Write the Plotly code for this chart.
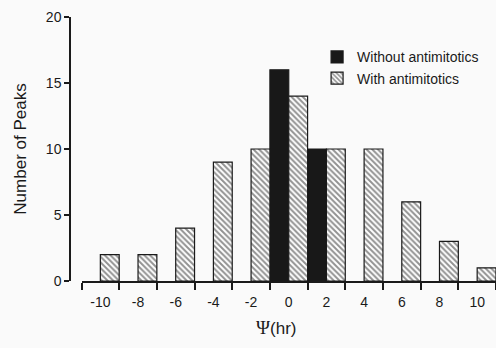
import plotly.graph_objects as go

# Bin start (hr) and counts
with_bins = [-10, -8, -6, -4, -2, 0, 2, 4, 6, 8, 10]
with_counts = [2, 2, 4, 9, 10, 14, 10, 10, 6, 3, 1]
without_bins = [-1, 1]
without_counts = [16, 10]

x_tick_vals = [-10, -8, -6, -4, -2, 0, 2, 4, 6, 8, 10]
x_tick_text = ["-10", "-8", "-6", "-4", "-2", "0", "2", "4", "6", "8", "10"]
x_minor_ticks = [-11, -9, -7, -5, -3, -1, 1, 3, 5, 7, 9, 11]
y_tick_vals = [0, 5, 10, 15, 20]

ink = "#1a1a1a"
bg = "#fafafa"
font_family = "Liberation Sans, Arial, Helvetica, sans-serif"

fig = go.Figure()
fig.add_trace(go.Bar(
    name="Without antimitotics",
    x=without_bins, y=without_counts, offset=0, width=1,
    marker=dict(color="#181818", line=dict(color=ink, width=1.2)),
))
fig.add_trace(go.Bar(
    name="With antimitotics",
    x=with_bins, y=with_counts, offset=0, width=1,
    marker=dict(color="white", line=dict(color=ink, width=1.2),
                pattern=dict(shape="\\", fgcolor="#262626", bgcolor="white",
                             size=4, solidity=0.5, fillmode="overlay")),
))

fig.update_layout(
    width=496, height=348,
    margin=dict(l=70, r=0, t=17, b=67, autoexpand=False),
    paper_bgcolor=bg, plot_bgcolor=bg,
    barmode="overlay",
    font=dict(family=font_family, color=ink, size=14),
    showlegend=True,
    legend=dict(x=0.58, y=0.908, xanchor="left", yanchor="top",
                bgcolor="rgba(0,0,0,0)", font=dict(size=14),
                traceorder="normal", tracegroupgap=0),
    xaxis=dict(
        range=[-11, 11], domain=[0.027, 1], automargin=False,
        showline=True, linecolor=ink, linewidth=1.5,
        tickmode="array", tickvals=x_tick_vals, ticktext=x_tick_text,
        ticks="outside", ticklen=7, tickcolor="rgba(0,0,0,0)",
        tickfont=dict(size=14),
        showgrid=False, zeroline=False,
        minor=dict(tickmode="array", tickvals=x_minor_ticks, ticks="outside",
                   ticklen=7, tickwidth=1.5, tickcolor=ink, showgrid=False),
    ),
    yaxis=dict(
        range=[0, 20], anchor="free", position=0, automargin=False,
        showline=True, linecolor=ink, linewidth=1.5,
        tickmode="array", tickvals=y_tick_vals,
        ticks="outside", ticklen=5, tickwidth=1.5, tickcolor=ink,
        tickfont=dict(size=14),
        showgrid=False, zeroline=False,
        title=dict(text="Number of Peaks", font=dict(size=17), standoff=14),
    ),
    annotations=[dict(
        text="<span style='font-family:Liberation Serif, serif;font-size:19px'>Ψ</span>(hr)",
        x=0.484, y=0, xref="paper", yref="paper",
        yshift=-46, showarrow=False, font=dict(size=17),
        xanchor="center", yanchor="middle")],
)

fig.write_html("out.html", config={"displayModeBar": False},
               post_script="document.body.style.margin='0';document.body.style.overflow='hidden';")
